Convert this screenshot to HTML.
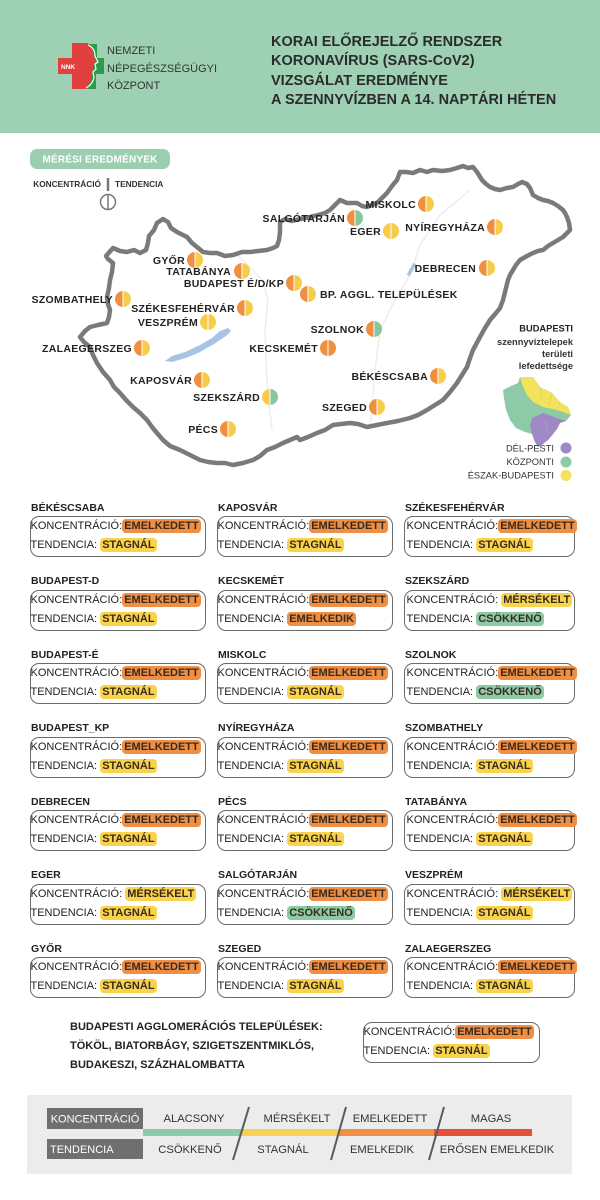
<!DOCTYPE html>
<html lang="hu">
<head>
<meta charset="utf-8">
<style>
*{margin:0;padding:0;box-sizing:border-box}
html,body{width:600px;height:1200px;background:#fff;overflow:hidden}
body{position:relative;font-family:"Liberation Sans","DejaVu Sans",sans-serif;color:#222}
.abs{position:absolute}
.hdr{position:absolute;left:0;top:0;width:600px;height:133px;background:#9ed1b4}
.htxt{position:absolute;left:271px;top:33px;font-weight:bold;font-size:14.5px;line-height:19.3px;color:#2b2b2b;white-space:nowrap}
.ltxt{position:absolute;left:107px;top:43px;font-size:11px;line-height:17.5px;color:#333;white-space:nowrap}
.c{position:absolute;height:41px;border:1.5px solid #6b6b6b;border-radius:9px}
.t{position:absolute;left:0;top:-15.5px;font-weight:bold;font-size:10.5px;line-height:12px;color:#222;white-space:nowrap}
.l1,.l2{position:absolute;left:-0.5px;font-size:11px;line-height:15px;height:15px;color:#222;white-space:nowrap}
.l1{top:2px}.l2{top:21px}
.b{display:inline-block;font-weight:bold;line-height:14px;padding:0 2px;border-radius:4px;color:#3a2a1a}
.o{background:#ef8f45}.y{background:#f8d44e}.g{background:#8ccaa5}
.c3 .l1,.c3 .l2{left:1.5px}
</style>
</head>
<body>

<div class="hdr"></div>
<svg class="abs" style="left:0;top:0" width="600" height="133">
  <rect x="88" y="44" width="9" height="16" fill="#2f9a4a"/>
  <rect x="90" y="58" width="14" height="16" fill="#2f9a4a"/>
  <rect x="86" y="72" width="10" height="17" fill="#2f9a4a"/>
  <rect x="72" y="43" width="16" height="46" fill="#e2403f"/>
  <rect x="58" y="58" width="32" height="16" fill="#e2403f"/>
  <path d="M86 43 Q93 46 93 55 L96 62 L93 64 L94 69 L91 72 L92 78 Q90 84 84 86 L84 89 L80 89 L80 43 Z" fill="#e2403f"/>
  <path d="M88 45 Q95 48 95 56 L98 62 L95 64 L96 69 L93 72 L94 78 Q92 85 86 88" fill="none" stroke="#fff" stroke-width="1.2"/>
  <text x="61" y="69" font-size="6.5" font-weight="bold" fill="#fff" font-family="Liberation Sans, sans-serif">NNK</text>
</svg>
<div class="ltxt">NEMZETI<br>NÉPEGÉSZSÉGÜGYI<br>KÖZPONT</div>
<div class="htxt">KORAI ELŐREJELZŐ RENDSZER<br>KORONAVÍRUS (SARS-CoV2)<br>VIZSGÁLAT EREDMÉNYE<br>A SZENNYVÍZBEN A 14. NAPTÁRI HÉTEN</div>

<svg class="abs" style="left:0;top:133px" width="600" height="360" viewBox="0 133 600 360" font-family="Liberation Sans, DejaVu Sans, sans-serif">
  <rect x="30" y="149" width="140" height="20" rx="7" fill="#9ccfb1"/>
  <text x="100" y="162.5" text-anchor="middle" font-size="10" font-weight="bold" fill="#fff" letter-spacing="0.2">MÉRÉSI EREDMÉNYEK</text>
  <text x="101" y="187" text-anchor="end" font-size="8.3" font-weight="bold" fill="#333">KONCENTRÁCIÓ</text>
  <text x="115" y="187" font-size="8.3" font-weight="bold" fill="#333">TENDENCIA</text>
  <line x1="108" y1="178" x2="108" y2="191" stroke="#777" stroke-width="2.5"/>
  <circle cx="108" cy="202" r="7.5" fill="none" stroke="#777" stroke-width="1.5"/>
  <line x1="108" y1="194.5" x2="108" y2="209.5" stroke="#777" stroke-width="1.5"/>

  <path d="M237 255 L248 265 L262 280 L268 300 L265 330 L266 360 L268 395 L272 430" fill="none" stroke="#ededed" stroke-width="1.5"/>
  <path d="M470 190 L440 215 L420 245 L410 275 L395 300 L380 330 L375 370 L372 410 L370 426" fill="none" stroke="#ededed" stroke-width="1.5"/>

  <path d="M106 256 L113 248 L120 251 L127 252 L134 250 L140 253 L146 250 L148 243 L149 236 L154 230 L157 223 L163 219 L168 222 L171 228 L177 232 L187 237 L192 243 L197 247 L203 252 L210 253 L217 253 L225 256 L233 255 L242 252 L250 252 L258 251 L267 250 L273 248 L277 246 L279 240 L280 232 L280 222 L285 219 L292 221 L300 219 L310 217 L318 215 L325 213 L330 210 L334 206 L340 200 L347 203 L357 203 L362 206 L367 207 L372 205 L377 203 L382 198 L387 193 L392 186 L397 180 L400 172 L406 172 L413 173 L420 170 L427 172 L433 170 L442 171 L450 170 L457 168 L463 166 L468 168 L473 167 L477 172 L482 180 L486 184 L490 187 L495 189 L500 190 L507 188 L513 187 L518 184 L522 182 L527 184 L530 188 L533 195 L538 198 L543 200 L548 201 L553 203 L558 206 L563 210 L565 213 L567 217 L569 223 L570 230 L566 234 L563 237 L558 240 L553 243 L548 246 L543 250 L538 251 L533 253 L527 256 L520 260 L516 265 L513 270 L510 275 L508 280 L506 288 L503 300 L500 308 L496 313 L490 320 L485 328 L480 337 L473 350 L470 358 L467 367 L462 375 L457 383 L450 392 L443 400 L435 405 L427 410 L418 415 L410 418 L398 421 L387 423 L377 425 L367 427 L358 424 L350 423 L341 424 L333 425 L325 430 L317 433 L308 437 L300 440 L297 437 L290 440 L283 443 L275 447 L267 450 L260 456 L253 460 L243 463 L233 465 L225 463 L217 463 L208 462 L200 460 L190 455 L180 450 L170 446 L163 440 L157 433 L152 427 L147 420 L140 413 L133 407 L126 400 L120 393 L114 387 L110 380 L103 372 L97 363 L93 355 L90 347 L84 342 L80 337 L85 331 L90 327 L98 325 L107 323 L109 317 L110 310 L108 304 L107 297 L109 288 L110 280 L112 272 L113 263 L108 259 Z" fill="none" stroke="#7a7a7a" stroke-width="4.5" stroke-linejoin="round"/>

  <path d="M165 361 L172 356 L185 352 L200 345 L212 338 L220 331 L228 328 L231 331 L226 336 L214 344 L200 352 L186 358 L172 362 Z" fill="#a7c4e4"/>
  <path d="M409 274 L414 265" stroke="#a7c4e4" stroke-width="3.5" stroke-linecap="round"/>

  <g font-size="10.5" font-weight="bold" fill="#222" text-anchor="end" letter-spacing="0.3">
    <text x="185" y="264">GYŐR</text>
    <text x="231" y="275">TATABÁNYA</text>
    <text x="284" y="287">BUDAPEST É/D/KP</text>
    <text x="113" y="303">SZOMBATHELY</text>
    <text x="235" y="312">SZÉKESFEHÉRVÁR</text>
    <text x="198" y="326">VESZPRÉM</text>
    <text x="132" y="352">ZALAEGERSZEG</text>
    <text x="192" y="384">KAPOSVÁR</text>
    <text x="260" y="401">SZEKSZÁRD</text>
    <text x="218" y="433">PÉCS</text>
    <text x="318" y="352">KECSKEMÉT</text>
    <text x="364" y="333">SZOLNOK</text>
    <text x="428" y="380">BÉKÉSCSABA</text>
    <text x="367" y="411">SZEGED</text>
    <text x="476" y="272">DEBRECEN</text>
    <text x="485" y="231">NYÍREGYHÁZA</text>
    <text x="416" y="208">MISKOLC</text>
    <text x="381" y="235">EGER</text>
    <text x="345" y="222">SALGÓTARJÁN</text>
    <text x="320" y="298" text-anchor="start">BP. AGGL. TELEPÜLÉSEK</text>
  </g>
  <g>
    <path d="M195 252 A8 8 0 0 0 195 268 Z" fill="#ef8f3f"/><path d="M195 252 A8 8 0 0 1 195 268 Z" fill="#f7cc4a"/>
    <path d="M242 263 A8 8 0 0 0 242 279 Z" fill="#ef8f3f"/><path d="M242 263 A8 8 0 0 1 242 279 Z" fill="#f7cc4a"/>
    <path d="M294 275 A8 8 0 0 0 294 291 Z" fill="#ef8f3f"/><path d="M294 275 A8 8 0 0 1 294 291 Z" fill="#f7cc4a"/>
    <path d="M123 291 A8 8 0 0 0 123 307 Z" fill="#ef8f3f"/><path d="M123 291 A8 8 0 0 1 123 307 Z" fill="#f7cc4a"/>
    <path d="M245 300 A8 8 0 0 0 245 316 Z" fill="#ef8f3f"/><path d="M245 300 A8 8 0 0 1 245 316 Z" fill="#f7cc4a"/>
    <path d="M208 314 A8 8 0 0 0 208 330 Z" fill="#f7cc4a"/><path d="M208 314 A8 8 0 0 1 208 330 Z" fill="#f7cc4a"/>
    <path d="M142 340 A8 8 0 0 0 142 356 Z" fill="#ef8f3f"/><path d="M142 340 A8 8 0 0 1 142 356 Z" fill="#f7cc4a"/>
    <path d="M202 372 A8 8 0 0 0 202 388 Z" fill="#ef8f3f"/><path d="M202 372 A8 8 0 0 1 202 388 Z" fill="#f7cc4a"/>
    <path d="M270 389 A8 8 0 0 0 270 405 Z" fill="#f7cc4a"/><path d="M270 389 A8 8 0 0 1 270 405 Z" fill="#86c6a1"/>
    <path d="M228 421 A8 8 0 0 0 228 437 Z" fill="#ef8f3f"/><path d="M228 421 A8 8 0 0 1 228 437 Z" fill="#f7cc4a"/>
    <path d="M328 340 A8 8 0 0 0 328 356 Z" fill="#ef8f3f"/><path d="M328 340 A8 8 0 0 1 328 356 Z" fill="#ef8f3f"/>
    <path d="M374 321 A8 8 0 0 0 374 337 Z" fill="#ef8f3f"/><path d="M374 321 A8 8 0 0 1 374 337 Z" fill="#86c6a1"/>
    <path d="M438 368 A8 8 0 0 0 438 384 Z" fill="#ef8f3f"/><path d="M438 368 A8 8 0 0 1 438 384 Z" fill="#f7cc4a"/>
    <path d="M377 399 A8 8 0 0 0 377 415 Z" fill="#ef8f3f"/><path d="M377 399 A8 8 0 0 1 377 415 Z" fill="#f7cc4a"/>
    <path d="M308 286 A8 8 0 0 0 308 302 Z" fill="#ef8f3f"/><path d="M308 286 A8 8 0 0 1 308 302 Z" fill="#f7cc4a"/>
    <path d="M487 260 A8 8 0 0 0 487 276 Z" fill="#ef8f3f"/><path d="M487 260 A8 8 0 0 1 487 276 Z" fill="#f7cc4a"/>
    <path d="M495 219 A8 8 0 0 0 495 235 Z" fill="#ef8f3f"/><path d="M495 219 A8 8 0 0 1 495 235 Z" fill="#f7cc4a"/>
    <path d="M426 196 A8 8 0 0 0 426 212 Z" fill="#ef8f3f"/><path d="M426 196 A8 8 0 0 1 426 212 Z" fill="#f7cc4a"/>
    <path d="M391 223 A8 8 0 0 0 391 239 Z" fill="#f7cc4a"/><path d="M391 223 A8 8 0 0 1 391 239 Z" fill="#f7cc4a"/>
    <path d="M355 210 A8 8 0 0 0 355 226 Z" fill="#ef8f3f"/><path d="M355 210 A8 8 0 0 1 355 226 Z" fill="#86c6a1"/>
    <g stroke="#fff" stroke-width="1">
      <line x1="195" y1="252" x2="195" y2="268"/><line x1="242" y1="263" x2="242" y2="279"/>
      <line x1="294" y1="275" x2="294" y2="291"/><line x1="123" y1="291" x2="123" y2="307"/>
      <line x1="245" y1="300" x2="245" y2="316"/><line x1="208" y1="314" x2="208" y2="330"/>
      <line x1="142" y1="340" x2="142" y2="356"/><line x1="202" y1="372" x2="202" y2="388"/>
      <line x1="270" y1="389" x2="270" y2="405"/><line x1="228" y1="421" x2="228" y2="437"/>
      <line x1="328" y1="340" x2="328" y2="356"/><line x1="374" y1="321" x2="374" y2="337"/>
      <line x1="438" y1="368" x2="438" y2="384"/><line x1="377" y1="399" x2="377" y2="415"/>
      <line x1="308" y1="286" x2="308" y2="302"/><line x1="487" y1="260" x2="487" y2="276"/>
      <line x1="495" y1="219" x2="495" y2="235"/><line x1="426" y1="196" x2="426" y2="212"/>
      <line x1="391" y1="223" x2="391" y2="239"/><line x1="355" y1="210" x2="355" y2="226"/>
    </g>
  </g>

  <g text-anchor="end" fill="#333" font-weight="bold">
    <text x="573" y="331.5" font-size="9.3" fill="#222">BUDAPESTI</text>
    <text x="573" y="345" font-size="9.3">szennyvíztelepek</text>
    <text x="573" y="357" font-size="9.3">területi</text>
    <text x="573" y="369" font-size="9.3">lefedettsége</text>
  </g>
  <path d="M520 377 L533 377 L540 387 L552 393 L560 402 L568 407 L571 415 L566 421 L560 423 L557 429 L553 434 L549 439 L543 444 L538 447 L535 442 L532 434 L525 432 L516 428 L510 420 L506 410 L504 398 L503 390 L511 386 L518 383 Z" fill="#8dcaa6"/>
  <path d="M520 377 L533 377 L540 387 L552 393 L560 402 L568 407 L571 415 L557 410 L543 407 L533 402 L527 395 L523 387 Z" fill="#f3e25b"/>
  <path d="M532 418 L543 413 L557 418 L566 421 L560 423 L557 429 L553 434 L549 439 L543 444 L538 447 L535 442 L532 434 L530 426 Z" fill="#9e88c6"/>
  <g fill="none" stroke="#b9b9b9" stroke-width="0.4">
    <path d="M511 386 L518 398 L515 410 M518 398 L530 403 L532 417 M530 403 L527 395 M540 387 L542 400 M552 393 L549 406 M560 402 L557 410 M545 420 L548 433"/>
  </g>
  <g text-anchor="end" font-size="9.3" fill="#333">
    <text x="554" y="451.5">DÉL-PESTI</text>
    <text x="554" y="465">KÖZPONTI</text>
    <text x="554" y="478.5">ÉSZAK-BUDAPESTI</text>
  </g>
  <circle cx="566" cy="448" r="5.5" fill="#9e88c6"/>
  <circle cx="566" cy="462" r="5.5" fill="#8dcaa6"/>
  <circle cx="566" cy="475.5" r="5.5" fill="#f3e25b"/>
</svg>

<div class="c" style="left:30px;top:516px;width:176px"><div class="t">BÉKÉSCSABA</div><div class="l1">KONCENTRÁCIÓ:<span class="b o">EMELKEDETT</span></div><div class="l2">TENDENCIA: <span class="b y">STAGNÁL</span></div></div>
<div class="c" style="left:30px;top:589.5px;width:176px"><div class="t">BUDAPEST-D</div><div class="l1">KONCENTRÁCIÓ:<span class="b o">EMELKEDETT</span></div><div class="l2">TENDENCIA: <span class="b y">STAGNÁL</span></div></div>
<div class="c" style="left:30px;top:663px;width:176px"><div class="t">BUDAPEST-É</div><div class="l1">KONCENTRÁCIÓ:<span class="b o">EMELKEDETT</span></div><div class="l2">TENDENCIA: <span class="b y">STAGNÁL</span></div></div>
<div class="c" style="left:30px;top:736.5px;width:176px"><div class="t">BUDAPEST_KP</div><div class="l1">KONCENTRÁCIÓ:<span class="b o">EMELKEDETT</span></div><div class="l2">TENDENCIA: <span class="b y">STAGNÁL</span></div></div>
<div class="c" style="left:30px;top:810px;width:176px"><div class="t">DEBRECEN</div><div class="l1">KONCENTRÁCIÓ:<span class="b o">EMELKEDETT</span></div><div class="l2">TENDENCIA: <span class="b y">STAGNÁL</span></div></div>
<div class="c" style="left:30px;top:883.5px;width:176px"><div class="t">EGER</div><div class="l1">KONCENTRÁCIÓ: <span class="b y">MÉRSÉKELT</span></div><div class="l2">TENDENCIA: <span class="b y">STAGNÁL</span></div></div>
<div class="c" style="left:30px;top:957px;width:176px"><div class="t">GYŐR</div><div class="l1">KONCENTRÁCIÓ:<span class="b o">EMELKEDETT</span></div><div class="l2">TENDENCIA: <span class="b y">STAGNÁL</span></div></div>

<div class="c" style="left:217px;top:516px;width:176px"><div class="t">KAPOSVÁR</div><div class="l1">KONCENTRÁCIÓ:<span class="b o">EMELKEDETT</span></div><div class="l2">TENDENCIA: <span class="b y">STAGNÁL</span></div></div>
<div class="c" style="left:217px;top:589.5px;width:176px"><div class="t">KECSKEMÉT</div><div class="l1">KONCENTRÁCIÓ:<span class="b o">EMELKEDETT</span></div><div class="l2">TENDENCIA: <span class="b o">EMELKEDIK</span></div></div>
<div class="c" style="left:217px;top:663px;width:176px"><div class="t">MISKOLC</div><div class="l1">KONCENTRÁCIÓ:<span class="b o">EMELKEDETT</span></div><div class="l2">TENDENCIA: <span class="b y">STAGNÁL</span></div></div>
<div class="c" style="left:217px;top:736.5px;width:176px"><div class="t">NYÍREGYHÁZA</div><div class="l1">KONCENTRÁCIÓ:<span class="b o">EMELKEDETT</span></div><div class="l2">TENDENCIA: <span class="b y">STAGNÁL</span></div></div>
<div class="c" style="left:217px;top:810px;width:176px"><div class="t">PÉCS</div><div class="l1">KONCENTRÁCIÓ:<span class="b o">EMELKEDETT</span></div><div class="l2">TENDENCIA: <span class="b y">STAGNÁL</span></div></div>
<div class="c" style="left:217px;top:883.5px;width:176px"><div class="t">SALGÓTARJÁN</div><div class="l1">KONCENTRÁCIÓ:<span class="b o">EMELKEDETT</span></div><div class="l2">TENDENCIA: <span class="b g">CSÖKKENŐ</span></div></div>
<div class="c" style="left:217px;top:957px;width:176px"><div class="t">SZEGED</div><div class="l1">KONCENTRÁCIÓ:<span class="b o">EMELKEDETT</span></div><div class="l2">TENDENCIA: <span class="b y">STAGNÁL</span></div></div>

<div class="c c3" style="left:404px;top:516px;width:171px"><div class="t">SZÉKESFEHÉRVÁR</div><div class="l1">KONCENTRÁCIÓ:<span class="b o">EMELKEDETT</span></div><div class="l2">TENDENCIA: <span class="b y">STAGNÁL</span></div></div>
<div class="c c3" style="left:404px;top:589.5px;width:171px"><div class="t">SZEKSZÁRD</div><div class="l1">KONCENTRÁCIÓ: <span class="b y">MÉRSÉKELT</span></div><div class="l2">TENDENCIA: <span class="b g">CSÖKKENŐ</span></div></div>
<div class="c c3" style="left:404px;top:663px;width:171px"><div class="t">SZOLNOK</div><div class="l1">KONCENTRÁCIÓ:<span class="b o">EMELKEDETT</span></div><div class="l2">TENDENCIA: <span class="b g">CSÖKKENŐ</span></div></div>
<div class="c c3" style="left:404px;top:736.5px;width:171px"><div class="t">SZOMBATHELY</div><div class="l1">KONCENTRÁCIÓ:<span class="b o">EMELKEDETT</span></div><div class="l2">TENDENCIA: <span class="b y">STAGNÁL</span></div></div>
<div class="c c3" style="left:404px;top:810px;width:171px"><div class="t">TATABÁNYA</div><div class="l1">KONCENTRÁCIÓ:<span class="b o">EMELKEDETT</span></div><div class="l2">TENDENCIA: <span class="b y">STAGNÁL</span></div></div>
<div class="c c3" style="left:404px;top:883.5px;width:171px"><div class="t">VESZPRÉM</div><div class="l1">KONCENTRÁCIÓ: <span class="b y">MÉRSÉKELT</span></div><div class="l2">TENDENCIA: <span class="b y">STAGNÁL</span></div></div>
<div class="c c3" style="left:404px;top:957px;width:171px"><div class="t">ZALAEGERSZEG</div><div class="l1">KONCENTRÁCIÓ:<span class="b o">EMELKEDETT</span></div><div class="l2">TENDENCIA: <span class="b y">STAGNÁL</span></div></div>

<div class="abs" style="left:70px;top:1017.5px;font-size:11px;font-weight:bold;line-height:19px;color:#222;white-space:nowrap">BUDAPESTI AGGLOMERÁCIÓS TELEPÜLÉSEK:<br>TÖKÖL, BIATORBÁGY, SZIGETSZENTMIKLÓS,<br>BUDAKESZI, SZÁZHALOMBATTA</div>
<div class="c" style="left:363px;top:1022px;width:177px"><div class="l1">KONCENTRÁCIÓ:<span class="b o">EMELKEDETT</span></div><div class="l2">TENDENCIA: <span class="b y">STAGNÁL</span></div></div>

<svg class="abs" style="left:0;top:1090px" width="600" height="90" viewBox="0 1090 600 90" font-family="Liberation Sans, DejaVu Sans, sans-serif">
  <rect x="27" y="1095" width="545" height="79" fill="#ececec"/>
  <rect x="47" y="1108" width="96" height="21" fill="#6f6f6f"/>
  <rect x="47" y="1139" width="96" height="20" fill="#6f6f6f"/>
  <text x="95" y="1122.5" text-anchor="middle" font-size="11" fill="#fff">KONCENTRÁCIÓ</text>
  <text x="50" y="1153" font-size="11" fill="#fff">TENDENCIA</text>
  <rect x="143" y="1129" width="98" height="7" fill="#8ccba7"/>
  <rect x="241" y="1129" width="98" height="7" fill="#f6d155"/>
  <rect x="339" y="1129" width="95" height="7" fill="#ef8f45"/>
  <rect x="434" y="1129" width="98" height="7" fill="#e4503a"/>
  <g stroke="#5a5a5a" stroke-width="2">
    <line x1="249" y1="1107" x2="233" y2="1160"/>
    <line x1="346" y1="1107" x2="331" y2="1160"/>
    <line x1="444" y1="1107" x2="429" y2="1160"/>
  </g>
  <g font-size="11.2" fill="#333" text-anchor="middle">
    <text x="194" y="1122">ALACSONY</text>
    <text x="297" y="1122">MÉRSÉKELT</text>
    <text x="390" y="1122">EMELKEDETT</text>
    <text x="491" y="1122">MAGAS</text>
    <text x="190" y="1153">CSÖKKENŐ</text>
    <text x="283" y="1153">STAGNÁL</text>
    <text x="382" y="1153">EMELKEDIK</text>
    <text x="497" y="1153">ERŐSEN EMELKEDIK</text>
  </g>
</svg>

</body>
</html>
